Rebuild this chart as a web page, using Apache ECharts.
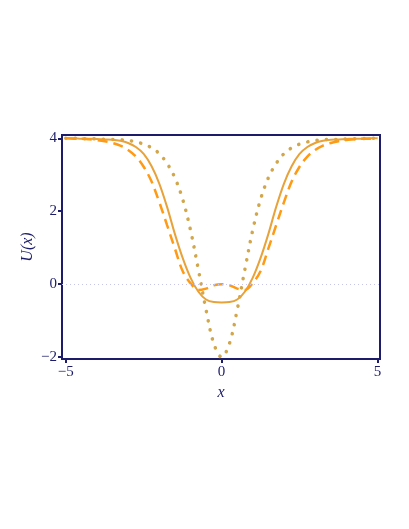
<!DOCTYPE html>
<html>
<head>
<meta charset="utf-8">
<script src="https://cdn.jsdelivr.net/npm/echarts@6/dist/echarts.min.js"></script>
<style>
  html, body { margin: 0; padding: 0; background: #fff; }
  #chart { width: 409px; height: 529px; }
</style>
</head>
<body>
<div id="chart"></div>
<script>
// x positions shared by the three curves
var xs = [-5, -4.75, -4.5, -4.25, -4, -3.75, -3.5, -3.25, -3, -2.75, -2.5, -2.25, -2, -1.75, -1.5, -1.25, -1, -0.75, -0.5, -0.25,
  0, 0.25, 0.5, 0.75, 1, 1.25, 1.5, 1.75, 2, 2.25, 2.5, 2.75, 3, 3.25, 3.5, 3.75, 4, 4.25, 4.5, 4.75, 5];

// solid curve
var solidU = [4.00, 4.00, 3.99, 3.99, 3.98, 3.97, 3.96, 3.93, 3.87, 3.76, 3.57, 3.24, 2.76, 2.12, 1.38, 0.72, 0.18, -0.20, -0.42, -0.49,
  -0.50, -0.49, -0.42, -0.20, 0.18, 0.72, 1.38, 2.12, 2.76, 3.24, 3.57, 3.76, 3.87, 3.93, 3.96, 3.97, 3.98, 3.99, 3.99, 4.00, 4.00];

// dashed curve
var dashedU = [4.00, 3.99, 3.99, 3.97, 3.95, 3.92, 3.87, 3.80, 3.68, 3.50, 3.22, 2.82, 2.25, 1.62, 0.98, 0.36, 0.03, -0.16, -0.12, -0.03,
  0.00, -0.03, -0.12, -0.16, 0.03, 0.36, 0.98, 1.62, 2.25, 2.82, 3.22, 3.50, 3.68, 3.80, 3.87, 3.92, 3.95, 3.97, 3.99, 3.99, 4.00];

// dotted curve
var dottedU = [4.00, 4.00, 3.99, 3.99, 3.98, 3.97, 3.97, 3.96, 3.94, 3.90, 3.84, 3.74, 3.58, 3.31, 2.92, 2.33, 1.49, 0.42, -0.70, -1.63,
  -2.00, -1.63, -0.70, 0.42, 1.49, 2.33, 2.92, 3.31, 3.58, 3.74, 3.84, 3.90, 3.94, 3.96, 3.97, 3.97, 3.98, 3.99, 3.99, 4.00, 4.00];

var xTicks = [-5, 0, 5];
var yTicks = [-2, 0, 2, 4];

var navy = '#1c1c6a';

function pairs(ys) {
  return xs.map(function (x, i) { return [x, ys[i]]; });
}

function minus(v) {
  return String(v).replace('-', '\u2212');
}

var option = {
  animation: false,
  grid: {
    left: 62, right: 29, top: 135, bottom: 170,
    show: true, borderColor: navy, borderWidth: 2
  },
  xAxis: {
    type: 'value',
    min: -5.12, max: 5.08,
    name: 'x',
    nameLocation: 'middle',
    nameGap: 26,
    nameTextStyle: { fontFamily: 'Liberation Serif', fontStyle: 'italic', fontSize: 16, color: navy },
    axisLine: { show: true, onZero: false, lineStyle: { color: navy, width: 2 } },
    axisTick: { show: true, length: 4, customValues: xTicks, lineStyle: { color: navy, width: 2 } },
    axisLabel: {
      customValues: xTicks, margin: 6,
      fontFamily: 'Liberation Serif', fontSize: 15, color: navy,
      formatter: minus
    },
    splitLine: { show: false }
  },
  yAxis: {
    type: 'value',
    min: -2.05, max: 4.09,
    name: 'U(x)',
    nameLocation: 'middle',
    nameGap: 26,
    nameMoveOverlap: false,
    nameTextStyle: { fontFamily: 'Liberation Serif', fontStyle: 'italic', fontSize: 16, color: navy },
    axisLine: { show: true, onZero: false, lineStyle: { color: navy, width: 2 } },
    axisTick: { show: true, length: 4, customValues: yTicks, lineStyle: { color: navy, width: 2 } },
    axisLabel: {
      customValues: yTicks, margin: 5,
      fontFamily: 'Liberation Serif', fontSize: 15, color: navy,
      formatter: minus
    },
    splitLine: { show: false }
  },
  series: [
    {
      name: 'dotted',
      type: 'line',
      data: pairs(dottedU),
      smooth: 0.35,
      showSymbol: false,
      lineStyle: { color: '#d2a64b', width: 3.5, type: [0.2, 9.2], cap: 'round' },
      markLine: {
        silent: true,
        symbol: 'none',
        label: { show: false },
        lineStyle: { color: '#c4c4ec', width: 1, type: [1, 3] },
        data: [{ yAxis: 0 }]
      },
      z: 2
    },
    {
      name: 'solid',
      type: 'line',
      data: pairs(solidU),
      smooth: 0.35,
      showSymbol: false,
      lineStyle: { color: '#e8a23a', width: 2 },
      z: 3
    },
    {
      name: 'dashed',
      type: 'line',
      data: pairs(dashedU),
      smooth: 0.35,
      showSymbol: false,
      lineStyle: { color: '#ff9a14', width: 2.5, type: [10, 6] },
      z: 4
    }
  ]
};

var myChart = echarts.init(document.getElementById('chart'));
myChart.setOption(option);
</script>
</body>
</html>
